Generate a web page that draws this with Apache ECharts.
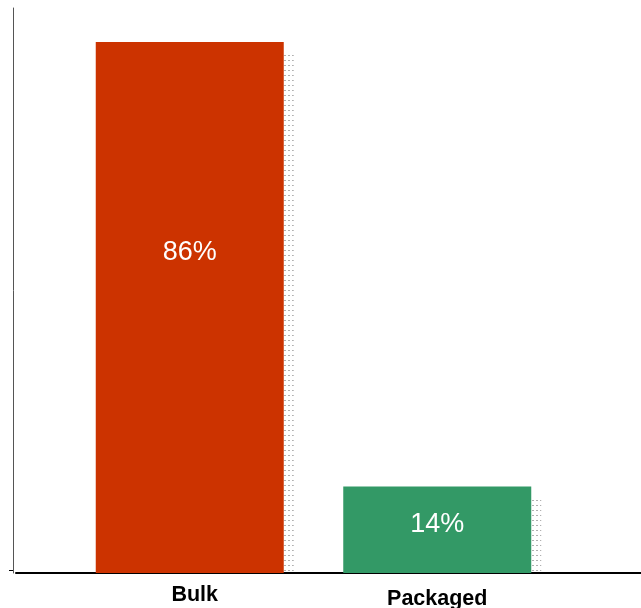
<!DOCTYPE html>
<html>
<head>
<meta charset="utf-8">
<script src="https://cdn.jsdelivr.net/npm/echarts@6/dist/echarts.min.js"></script>
<style>
  html, body { margin: 0; padding: 0; background: #ffffff; }
  #chart { width: 641px; height: 608px; }
</style>
</head>
<body>
<div id="chart"></div>
<script>
// Share of product by form
const categories = ['Bulk', 'Packaged'];
const shares = [86, 14];
const barColors = ['#CC3300', '#339966'];

const FONT = '"Liberation Sans", Arial, sans-serif';

// Small dotted tile used for the hatched shadow beside each bar
function dotTile() {
  const c = document.createElement('canvas');
  c.width = 4; c.height = 5;
  const ctx = c.getContext('2d');
  ctx.fillStyle = 'rgba(150,150,150,0.75)';
  ctx.fillRect(0, 0, 2, 1);
  return c;
}
const dots = dotTile();

const chart = echarts.init(document.getElementById('chart'), null, { renderer: 'canvas' });

const BAR_W = 188;

chart.setOption({
  animation: false,
  backgroundColor: '#ffffff',
  grid: [
    { left: 66, right: 80, top: 8, bottom: 35, outerBoundsMode: 'none' },
    { left: 16, right: 0, top: 8, bottom: 35, outerBoundsMode: 'none' }
  ],
  xAxis: [
    {
      type: 'category',
      gridIndex: 0,
      data: categories.map((c, i) => ({
        value: c,
        textStyle: { padding: [i === 0 ? 0 : 4, 0, 0, i === 0 ? 10 : 0] }
      })),
      axisLine: { show: false },
      axisTick: { show: false },
      axisLabel: {
        margin: 11,
        color: '#000000',
        fontFamily: FONT,
        fontWeight: 'bold',
        fontSize: 21.5
      }
    },
    {
      type: 'category',
      gridIndex: 1,
      data: categories,
      axisLine: { show: true, lineStyle: { color: '#000000', width: 2 } },
      axisTick: { show: false },
      axisLabel: { show: false }
    }
  ],
  yAxis: [
    {
      type: 'value',
      gridIndex: 0,
      min: 0,
      max: 91.5,
      interval: 100,
      offset: 53,
      axisLine: { show: true, lineStyle: { color: '#555555', width: 1 } },
      axisTick: { show: true, length: 4, customValues: [0.4], lineStyle: { color: '#000000' } },
      axisLabel: { show: false },
      splitLine: { show: false }
    },
    {
      type: 'value',
      gridIndex: 1,
      min: 0,
      max: 91.5,
      show: false,
      splitLine: { show: false }
    }
  ],
  series: [
    {
      type: 'custom',
      xAxisIndex: 0,
      yAxisIndex: 0,
      z: 1,
      data: shares.map((v, i) => [i, v]),
      renderItem: function (params, api) {
        const top = api.coord([api.value(0), api.value(1)]);
        const base = api.coord([api.value(0), 0]);
        const x = top[0] + BAR_W / 2;
        const y = top[1] + 13;
        return {
          type: 'rect',
          shape: { x: x, y: y, width: 10, height: base[1] - y },
          style: { fill: { image: dots, repeat: 'repeat' } }
        };
      }
    },
    {
      type: 'bar',
      xAxisIndex: 0,
      yAxisIndex: 0,
      z: 2,
      barWidth: BAR_W,
      data: shares.map((v, i) => ({
        value: v,
        itemStyle: { color: barColors[i] },
        label: { offset: i === 0 ? [0, -55] : [0, -5] }
      })),
      label: {
        show: true,
        position: 'inside',
        color: '#ffffff',
        fontFamily: FONT,
        fontSize: 27,
        formatter: p => p.value + '%'
      }
    }
  ]
});
</script>
</body>
</html>
